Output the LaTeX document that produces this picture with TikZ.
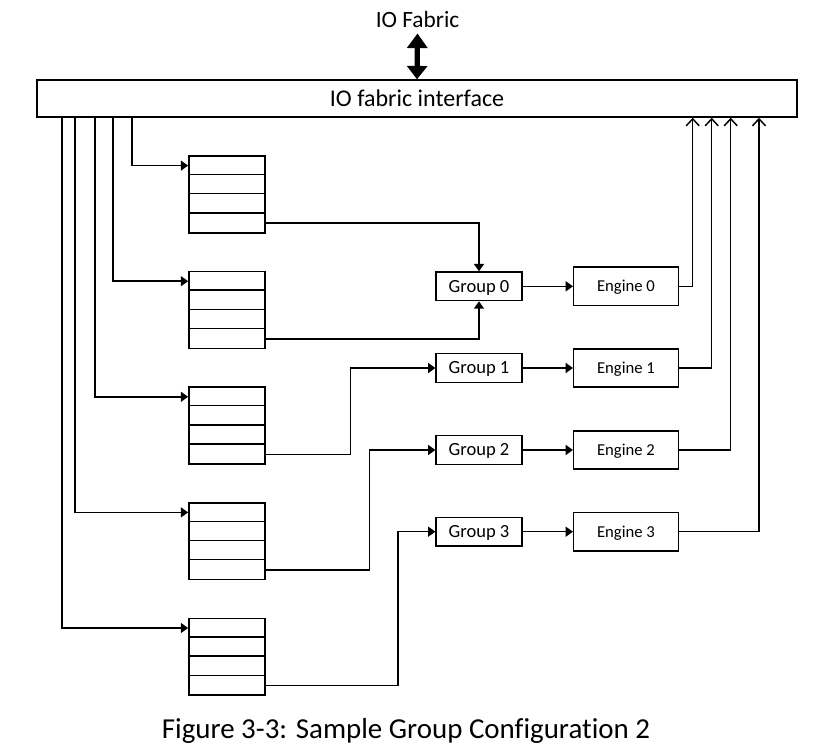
\documentclass[tikz,border=0pt]{standalone}
\usepackage{fontspec}
\setmainfont{Carlito}[Ligatures=NoCommon]
\usetikzlibrary{arrows.meta,calc}
\begin{document}
\begin{tikzpicture}[x=0.75pt,y=-0.75pt,
  every node/.style={inner sep=0pt},
  ln/.style={line width=1.1pt},
  arr/.style={ln,-{Triangle[length=5.5pt,width=7.5pt]}},
  oarr/.style={ln,-{Straight Barb[length=5.25pt,width=9.75pt,line width=1.1pt]}},
  dbl/.style={line width=3.9pt,{Triangle[length=11pt,width=15pt]}-{Triangle[length=10pt,width=15pt]}},
  box/.style={draw,ln,fill=white},
  iffont/.style={font=\fontsize{18pt}{20pt}\selectfont,text height=11.6pt,text depth=0pt},
  fabfont/.style={font=\fontsize{17.5pt}{20pt}\selectfont},
  grp/.style={box,minimum width=64.3pt,minimum height=21.45pt,font=\fontsize{13.9pt}{16pt}\selectfont,text height=8.9pt,text depth=0pt},
  eng/.style={box,minimum width=78.45pt,minimum height=28.7pt,font=\fontsize{12.5pt}{15pt}\selectfont,text height=8pt,text depth=0pt},
  que/.style={box,minimum width=57.2pt,minimum height=57.6pt},
  capfont/.style={font=\fontsize{21.7pt}{24pt}\selectfont}
]
\useasboundingbox (0,0) rectangle (834,753);

% interface and fabric
\node[box,minimum width=570pt,minimum height=27.75pt,iffont] (iface) at (417,98.5) {IO fabric interface};
\node[fabfont,anchor=base,inner ysep=4.5pt] (fab) at (417.5,27) {IO Fabric};
\draw[dbl] (fab.south) -- (iface.north);

% queues
\foreach \i/\t in {1/156,2/271.6,3/387.2,4/502.8,5/618.4}{
  \node[que] (q\i) at (227,\t+38.4) {};
  \draw[ln] ($(q\i.north west)+(0,19.2)$) -- ($(q\i.north east)+(0,19.2)$);
  \draw[ln] ($(q\i.north west)+(0,38.4)$) -- ($(q\i.north east)+(0,38.4)$);
  \draw[ln] ($(q\i.north west)+(0,57.6)$) -- ($(q\i.north east)+(0,57.6)$);
  \coordinate (qin\i) at ($(q\i.west)+(0,-28.8)$);
  \coordinate (qout\i) at ($(q\i.east)+(0,28.8)$);
}

% groups and engines
\foreach \i/\y in {0/286.3,1/368,2/450,3/531.7}{
  \node[grp] (g\i) at (479,\y) {Group \i};
  \node[eng] (e\i) at (626,\y) {Engine \i};
  \draw[arr] (g\i.east) -- (e\i.west);
}

% vertical line positions
\coordinate (v1) at (132,0);
\coordinate (v2) at (113,0);
\coordinate (v3) at (95,0);
\coordinate (v4) at (75,0);
\coordinate (v5) at (62,0);
\foreach \i in {1,...,5}{
  \draw[arr] (iface.south -| v\i) |- (qin\i);
}

% queue outputs to groups
\draw[arr] (qout1) -| (g0.north);
\draw[arr] (qout2) -| (g0.south);
\coordinate (t3) at (350.7,0);
\coordinate (t4) at (369.3,0);
\coordinate (t5) at (398,0);
\draw[arr] (qout3) -- (qout3 -| t3) -- (g1.west -| t3) -- (g1.west);
\draw[arr] (qout4) -- (qout4 -| t4) -- (g2.west -| t4) -- (g2.west);
\draw[arr] (qout5) -- (qout5 -| t5) -- (g3.west -| t5) -- (g3.west);

% engine outputs to interface
\coordinate (u0) at (692.7,0);
\coordinate (u1) at (711.7,0);
\coordinate (u2) at (730.7,0);
\coordinate (u3) at (759,0);
\foreach \i in {0,...,3}{
  \draw[oarr] (e\i.east) -- (e\i.east -| u\i) -- (iface.south -| u\i);
}

% caption
\node[capfont,anchor=base] (cap) at (406,738) {Figure 3-3: Sample Group Configuration 2};
\end{tikzpicture}
\end{document}
